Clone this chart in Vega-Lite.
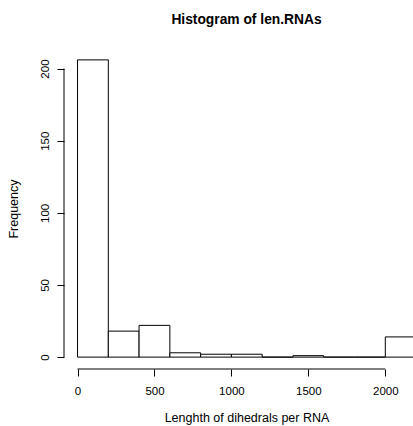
{
  "$schema": "https://vega.github.io/schema/vega-lite/v6.json",
  "width": 349,
  "height": 321,
  "autosize": {"type": "none"},
  "padding": {"left": 64, "top": 48, "right": 0, "bottom": 57},
  "background": "white",
  "config": {
    "font": "Liberation Sans",
    "view": {"stroke": null}
  },
  "title": {
    "text": "Histogram of len.RNAs",
    "font": "Liberation Sans",
    "fontSize": 13.8,
    "fontWeight": "bold",
    "color": "black",
    "anchor": "middle",
    "frame": "group",
    "dx": 8,
    "baseline": "alphabetic",
    "offset": 10
  },
  "datasets": {
    "bins": [
      {"bin_start": 0, "bin_end": 200, "count": 206},
      {"bin_start": 200, "bin_end": 400, "count": 18},
      {"bin_start": 400, "bin_end": 600, "count": 22},
      {"bin_start": 600, "bin_end": 800, "count": 3},
      {"bin_start": 800, "bin_end": 1000, "count": 2},
      {"bin_start": 1000, "bin_end": 1200, "count": 2},
      {"bin_start": 1200, "bin_end": 1400, "count": 0},
      {"bin_start": 1400, "bin_end": 1600, "count": 1},
      {"bin_start": 1600, "bin_end": 1800, "count": 0},
      {"bin_start": 1800, "bin_end": 2000, "count": 0},
      {"bin_start": 2000, "bin_end": 2200, "count": 14}
    ],
    "xline": [{"from": 0, "to": 2000, "at": -8.24}],
    "yline": [{"from": 0, "to": 200, "at": -88}]
  },
  "layer": [
    {
      "data": {"name": "bins"},
      "mark": {"type": "rect", "fill": "white", "stroke": "black", "strokeWidth": 1, "clip": true},
      "encoding": {
        "x": {
          "field": "bin_start",
          "type": "quantitative",
          "scale": {"domain": [-88, 2180], "nice": false, "zero": false},
          "axis": {
            "domain": false,
            "grid": false,
            "values": [0, 500, 1000, 1500, 2000],
            "format": "d",
            "tickSize": 7,
            "tickColor": "black",
            "labelColor": "black",
            "labelFontSize": 11.5,
            "labelPadding": 9,
            "labelFlush": false,
            "title": "Lenghth of dihedrals per RNA",
            "titleFontSize": 12.5,
            "titleFontWeight": "normal",
            "titleColor": "black",
            "titleX": 182.5,
            "titleY": 52,
            "titleBaseline": "alphabetic"
          }
        },
        "x2": {"field": "bin_end"},
        "y": {
          "field": "count",
          "type": "quantitative",
          "scale": {"domain": [-8.24, 214.24], "nice": false, "zero": false},
          "axis": {
            "domain": false,
            "grid": false,
            "values": [0, 50, 100, 150, 200],
            "tickSize": 7,
            "tickColor": "black",
            "labelColor": "black",
            "labelFontSize": 11.5,
            "labelAngle": -90,
            "labelAlign": "center",
            "labelBaseline": "bottom",
            "labelPadding": 7,
            "labelFlush": false,
            "title": "Frequency",
            "titleFontSize": 12.5,
            "titleFontWeight": "normal",
            "titleColor": "black",
            "titlePadding": 19
          }
        },
        "y2": {"datum": 0}
      }
    },
    {
      "data": {"name": "xline"},
      "mark": {"type": "rule", "color": "black", "strokeWidth": 1},
      "encoding": {
        "x": {"field": "from", "type": "quantitative"},
        "x2": {"field": "to"},
        "y": {"field": "at", "type": "quantitative"}
      }
    },
    {
      "data": {"name": "yline"},
      "mark": {"type": "rule", "color": "black", "strokeWidth": 1},
      "encoding": {
        "x": {"field": "at", "type": "quantitative"},
        "y": {"field": "from", "type": "quantitative"},
        "y2": {"field": "to"}
      }
    }
  ]
}
